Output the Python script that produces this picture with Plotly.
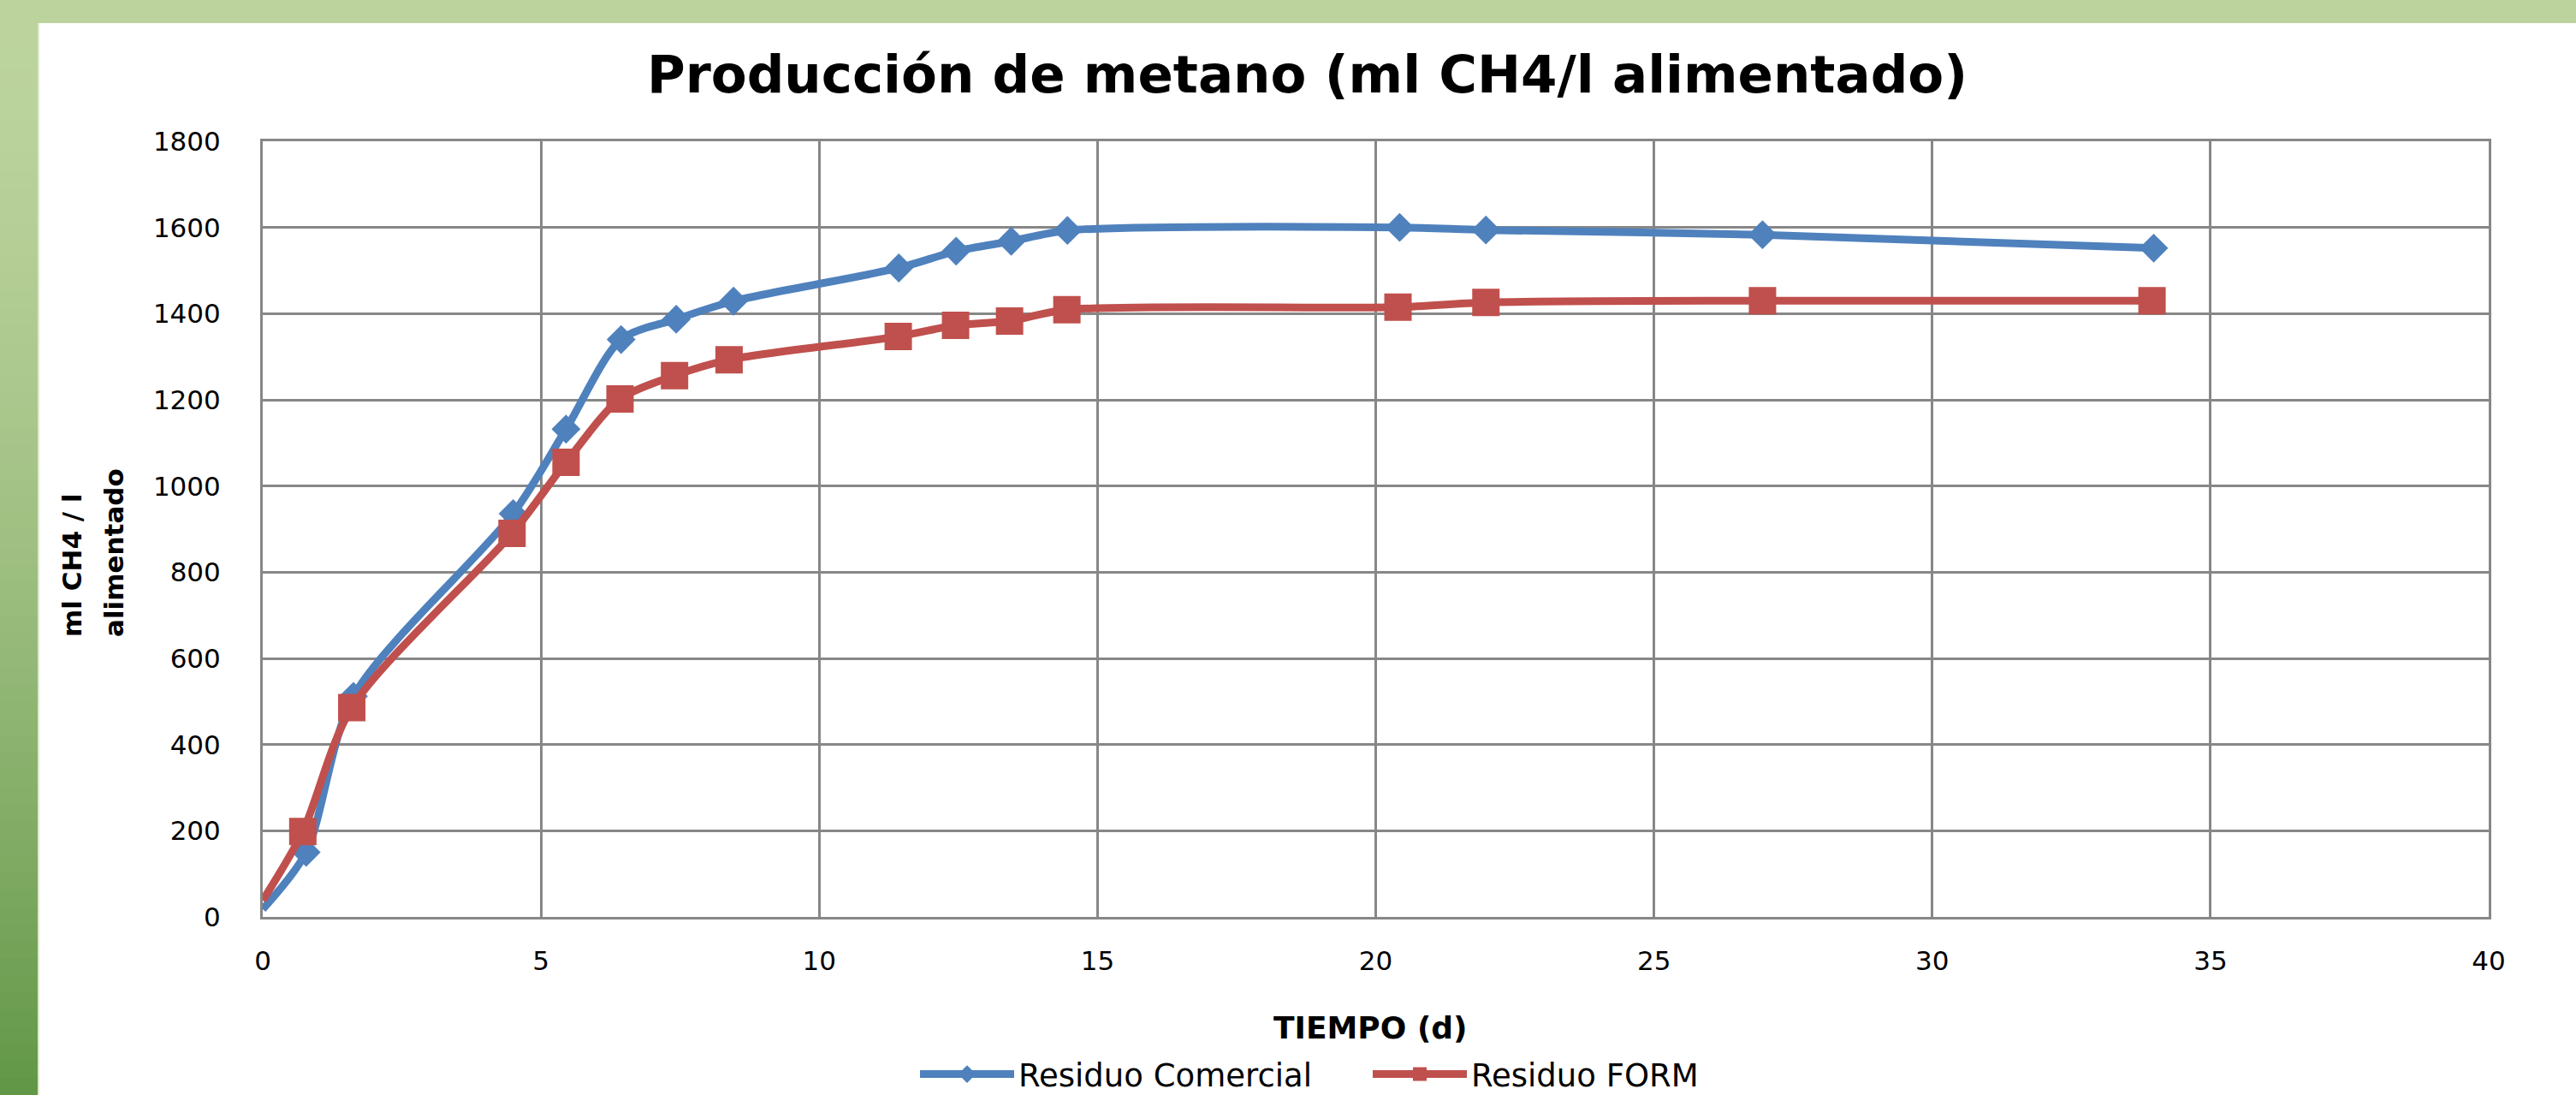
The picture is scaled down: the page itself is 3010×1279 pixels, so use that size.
import plotly.graph_objects as go

# ---------------- data ----------------
dias_comercial = [0, 0.78, 1.63, 4.5, 5.45, 6.44, 7.43, 8.46, 11.43, 12.46, 13.45, 14.46, 20.43, 21.98, 26.95, 33.98]
prod_comercial = [18, 150, 512, 936, 1132, 1340, 1387, 1429, 1506, 1545, 1568, 1593, 1600, 1594, 1583, 1552]

dias_form = [0, 0.72, 1.6, 4.48, 5.45, 6.42, 7.4, 8.38, 11.42, 12.45, 13.42, 14.45, 20.4, 21.98, 26.95, 33.95]
prod_form = [38, 198, 486, 890, 1055, 1202, 1256, 1293, 1347, 1373, 1383, 1409, 1415, 1426, 1430, 1430]

series_names = ["Residuo Comercial", "Residuo FORM"]
title_text = "Producción de metano (ml CH4/l alimentado)"
x_title = "TIEMPO (d)"
y_title_lines = ["ml CH4 / l", "alimentado"]
x_ticks = [0, 5, 10, 15, 20, 25, 30, 35, 40]
y_ticks = [0, 200, 400, 600, 800, 1000, 1200, 1400, 1600, 1800]

# ---------------- layout geometry ----------------
W, H = 3010, 1279
L, R, T, B = 307, 2908, 165, 1071  # plot area in px


def px2x(px):
    return (px - L) / (R - L)


def px2y(py):
    return (B - py) / (B - T)


BLUE = "#4F81BD"
RED = "#C0504D"
GRID = "#878787"
TICK_FONT = "DejaVu Sans"
BOLD_FONT = "DejaVu Sans"

fig = go.Figure()

n1 = len(dias_comercial)
n2 = len(dias_form)
fig.add_trace(go.Scatter(
    x=dias_comercial, y=prod_comercial, name=series_names[0],
    mode="lines+markers",
    line=dict(color=BLUE, width=9, shape="spline", smoothing=0.8),
    marker=dict(symbol="diamond", color=BLUE, opacity=1, size=[0] + [26] * (n1 - 1),
                line=dict(width=0)),
))
fig.add_trace(go.Scatter(
    x=dias_form, y=prod_form, name=series_names[1],
    mode="lines+markers",
    line=dict(color=RED, width=9, shape="spline", smoothing=0.8),
    marker=dict(symbol="square", color=RED, opacity=1, size=[0] + [32] * (n2 - 1),
                line=dict(width=0)),
))

# ---------------- green frame ----------------
shapes = []
top_c = (0xBC, 0xD3, 0x9E)
bot_c = (0x62, 0x97, 0x47)
nsl = 64
for i in range(nsl):
    t = i / (nsl - 1)
    tt = t ** 1.6
    c = tuple(int(round(top_c[k] + (bot_c[k] - top_c[k]) * tt)) for k in range(3))
    y0 = H * i / nsl
    y1 = H * (i + 1) / nsl + 1
    shapes.append(dict(type="rect", xref="paper", yref="paper",
                       x0=px2x(0), x1=px2x(44), y0=px2y(y1), y1=px2y(y0),
                       fillcolor="rgb(%d,%d,%d)" % c, line=dict(width=0), layer="below"))
shapes.append(dict(type="rect", xref="paper", yref="paper",
                   x0=px2x(44), x1=px2x(46), y0=px2y(H), y1=px2y(27),
                   fillcolor="#DCE8CC", line=dict(width=0), layer="below"))
shapes.append(dict(type="rect", xref="paper", yref="paper",
                   x0=px2x(0), x1=px2x(W), y0=px2y(27), y1=px2y(0),
                   fillcolor="#BCD39E", line=dict(width=0), layer="below"))

annotations = [
    dict(text="<b>%s</b>" % title_text, xref="paper", yref="paper",
         x=px2x(1527), y=px2y(86), xanchor="center", yanchor="middle",
         showarrow=False, font=dict(family=BOLD_FONT, size=61, color="black")),
    dict(text="<b>%s</b>" % x_title, xref="paper", yref="paper",
         x=px2x(1601), y=px2y(1200), xanchor="center", yanchor="middle",
         showarrow=False, font=dict(family=BOLD_FONT, size=36, color="black")),
    dict(text="<b>%s</b>" % y_title_lines[0], xref="paper", yref="paper",
         x=px2x(84), y=px2y(660), xanchor="center", yanchor="middle",
         textangle=-90, showarrow=False,
         font=dict(family=BOLD_FONT, size=31, color="black")),
    dict(text="<b>%s</b>" % y_title_lines[1], xref="paper", yref="paper",
         x=px2x(133), y=px2y(646), xanchor="center", yanchor="middle",
         textangle=-90, showarrow=False,
         font=dict(family=BOLD_FONT, size=31, color="black")),
]

fig.update_layout(
    width=W, height=H,
    margin=dict(l=L, r=W - R, t=T, b=H - B, pad=0, autoexpand=False),
    paper_bgcolor="white", plot_bgcolor="white",
    shapes=shapes, annotations=annotations,
    showlegend=True,
    legend=dict(orientation="h", x=px2x(1070), y=px2y(1286), xanchor="left", yanchor="bottom",
                font=dict(family=TICK_FONT, size=37, color="black"),
                itemwidth=110, bgcolor="rgba(0,0,0,0)", tracegroupgap=0,
                entrywidth=404, entrywidthmode="pixels"),
    xaxis=dict(range=[0, 40], tickvals=x_ticks, ticktext=[str(v) for v in x_ticks],
               showgrid=True, gridcolor=GRID, gridwidth=3,
               showline=True, linecolor=GRID, linewidth=3, mirror=True,
               zeroline=False, ticks="", ticklabelstandoff=22,
               tickfont=dict(family=TICK_FONT, size=31, color="black")),
    yaxis=dict(range=[0, 1800], tickvals=y_ticks, ticktext=[str(v) for v in y_ticks],
               showgrid=True, gridcolor=GRID, gridwidth=3,
               showline=True, linecolor=GRID, linewidth=3, mirror=True,
               zeroline=False, ticks="", ticklabelstandoff=40,
               tickfont=dict(family=TICK_FONT, size=31, color="black")),
)

fig.write_html(
    "out.html",
    config={"displayModeBar": False},
    post_script="document.body.style.margin='0';document.body.style.overflow='hidden';",
)
